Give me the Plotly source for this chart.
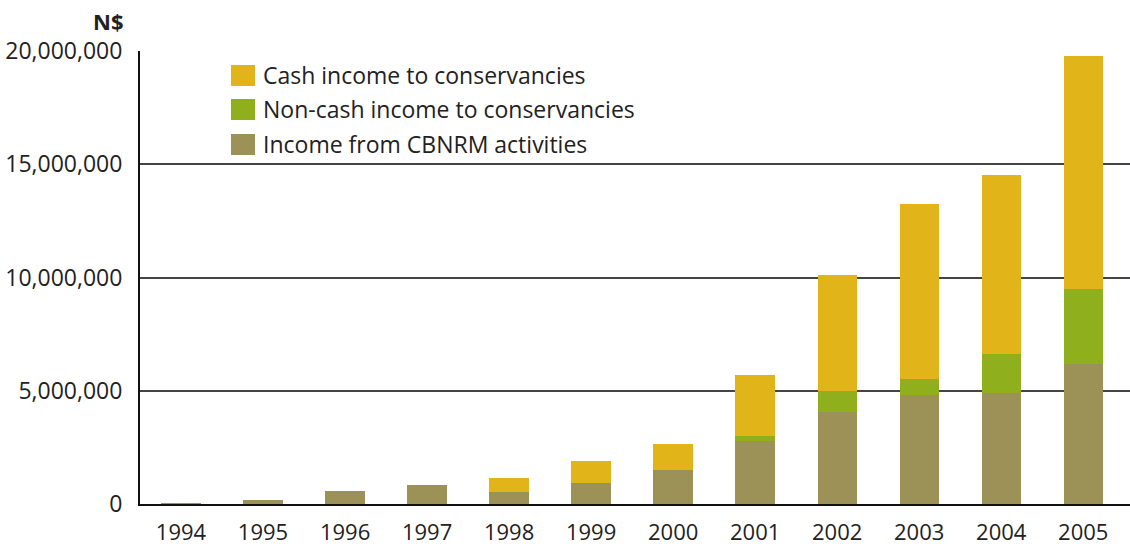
import plotly.graph_objects as go

# Income to Namibian conservancies, N$
years = ["1994", "1995", "1996", "1997", "1998", "1999",
         "2000", "2001", "2002", "2003", "2004", "2005"]
cbnrm_income = [30_000, 180_000, 570_000, 860_000, 540_000, 940_000,
                1_500_000, 2_760_000, 4_050_000, 4_810_000, 4_880_000, 6_180_000]
noncash_income = [0, 0, 0, 0, 0, 0,
                  0, 240_000, 950_000, 730_000, 1_740_000, 3_320_000]
cash_income = [0, 0, 0, 0, 610_000, 980_000,
               1_130_000, 2_710_000, 5_090_000, 7_700_000, 7_890_000, 10_300_000]

series_names = ["Cash income to conservancies",
                "Non-cash income to conservancies",
                "Income from CBNRM activities"]
colors = {"cash": "#E1B519", "noncash": "#90AF1C", "cbnrm": "#9C9156"}
ytick_vals = [0, 5_000_000, 10_000_000, 15_000_000, 20_000_000]
ytick_text = ["0", "5,000,000", "10,000,000", "15,000,000", "20,000,000"]

font_family = "Open Sans, Noto Sans, sans-serif"
text_color = "#222222"

fig = go.Figure()
fig.add_trace(go.Bar(x=years, y=cbnrm_income, name=series_names[2],
                     marker=dict(color=colors["cbnrm"], line=dict(width=0))))
fig.add_trace(go.Bar(x=years, y=noncash_income, name=series_names[1],
                     marker=dict(color=colors["noncash"], line=dict(width=0))))
fig.add_trace(go.Bar(x=years, y=cash_income, name=series_names[0],
                     marker=dict(color=colors["cash"], line=dict(width=0))))

# Hand-drawn legend with large colour swatches (pixel positions -> paper coords)
W_PLOT, H_PLOT, M_L, M_B, H = 990, 453, 140, 42, 546


def px_x(px):
    return (px - M_L) / W_PLOT


def px_y(py):
    return (H - M_B - py) / H_PLOT


legend_rows = [(series_names[0], colors["cash"]),
               (series_names[1], colors["noncash"]),
               (series_names[2], colors["cbnrm"])]
row_y = [75, 109, 144]
shapes = []
annotations = []
for (label, col), yc in zip(legend_rows, row_y):
    shapes.append(dict(type="rect", xref="paper", yref="paper",
                       x0=px_x(231), x1=px_x(255),
                       y0=px_y(yc + 11), y1=px_y(yc - 10),
                       fillcolor=col, line=dict(width=0), layer="above"))
    annotations.append(dict(text=label, xref="paper", yref="paper",
                            x=px_x(261), y=px_y(yc),
                            xanchor="left", yanchor="middle", showarrow=False,
                            font=dict(size=23, color=text_color, family=font_family)))

annotations.append(dict(text="<b>N$</b>", xref="paper", yref="paper",
                        x=px_x(125), y=px_y(21),
                        xanchor="right", yanchor="middle", showarrow=False,
                        font=dict(size=22, color=text_color, family=font_family)))

fig.update_layout(
    width=1130, height=546,
    barmode="stack", bargap=0.52,
    showlegend=False,
    paper_bgcolor="white", plot_bgcolor="white",
    margin=dict(l=M_L, r=0, t=51, b=M_B),
    font=dict(family=font_family, color=text_color),
    shapes=shapes, annotations=annotations,
)
fig.update_xaxes(
    type="category", range=[-0.5, 11.57],
    showline=True, linecolor="#111111", linewidth=2,
    showgrid=False, ticks="outside", ticklen=8, tickcolor="rgba(0,0,0,0)",
    tickfont=dict(size=22, color=text_color, family=font_family),
)
fig.update_yaxes(
    range=[0, 20_000_000], tickvals=ytick_vals, ticktext=ytick_text,
    showline=True, linecolor="#111111", linewidth=2,
    showgrid=True, gridcolor="#444444", gridwidth=2,
    zeroline=False, ticks="outside", ticklen=11, tickcolor="rgba(0,0,0,0)",
    tickfont=dict(size=23, color=text_color, family=font_family),
)

fig.write_html("out.html")
